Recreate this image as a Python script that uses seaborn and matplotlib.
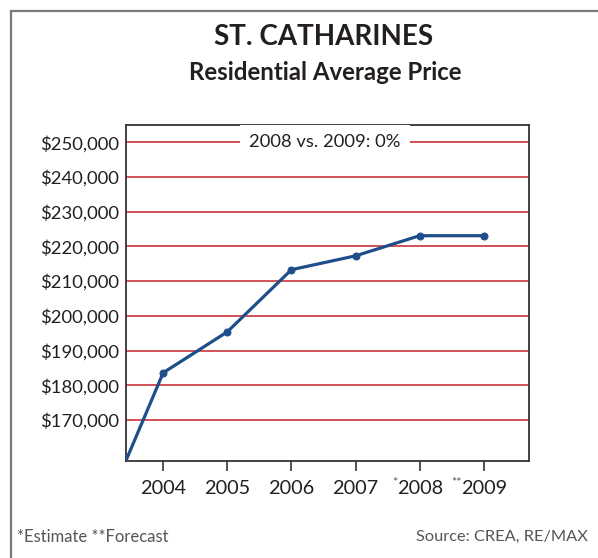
import pandas as pd
import seaborn as sns
import matplotlib
matplotlib.use("Agg")
import matplotlib.pyplot as plt
from matplotlib.patches import Rectangle
from matplotlib.ticker import FuncFormatter
from matplotlib.transforms import blended_transform_factory

# ── Data ──────────────────────────────────────────────────────────────
years  = [2003, 2004, 2005, 2006, 2007, 2008, 2009]
prices = [140000, 183600, 195400, 213300, 217300, 223100, 223100]
tick_years  = [2004, 2005, 2006, 2007, 2008, 2009]
tick_marks  = ["", "", "", "", "*", "**"]     # *estimate **forecast
y_ticks     = [170000, 180000, 190000, 200000, 210000, 220000, 230000, 240000, 250000]

TITLE    = "ST. CATHARINES"
SUBTITLE = "Residential Average Price"
CALLOUT  = "2008 vs. 2009: 0%"

BLUE = "#1f4f8a"
RED  = "#c8202b"
INK  = "#231f20"
GREY = "#555555"

df = pd.DataFrame({"year": years, "price": prices})

sns.set_theme(style="white")
plt.rcParams["font.family"] = ["Lato", "DejaVu Sans"]

fig = plt.figure(figsize=(5.98, 5.58), dpi=100)
ax = fig.add_axes([0.2107, 0.1744, 0.6734, 0.6016])

# outer frame (runs off right/bottom edge like the source)
fig.patches.append(Rectangle((11 / 598, -0.05), 1.2, 1 - 11 / 558 + 0.05,
                             transform=fig.transFigure, fill=False,
                             edgecolor="#7a7a7a", lw=1.6, zorder=0))

# gridlines
for v in y_ticks:
    ax.axhline(v, color=RED, lw=1.1, zorder=1)

sns.lineplot(data=df, x="year", y="price", color=BLUE, lw=2.3,
             marker="o", markersize=5, markeredgecolor=BLUE, ax=ax, zorder=3)

ax.set_xlim(2003.42, 2009.70)
ax.set_ylim(158270, 255000)
ax.set_xlabel("")
ax.set_ylabel("")

ax.set_yticks(y_ticks)
ax.yaxis.set_major_formatter(FuncFormatter(lambda v, _: f"${v:,.0f}"))
ax.set_xticks(tick_years)
ax.set_xticklabels([str(y) for y in tick_years])
ax.tick_params(axis="y", length=0, pad=5, labelsize=13.3, labelcolor=INK)
ax.tick_params(axis="x", length=7, width=1.2, direction="out", pad=7,
               labelsize=14.3, labelcolor=INK, color="#333333", bottom=True)

for s in ax.spines.values():
    s.set_color("#333333")
    s.set_linewidth(1.3)

# superscript asterisks before 2008 / 2009
for yr, mark in zip(tick_years, tick_marks):
    if mark:
        ax.annotate(mark, xy=(yr, 0), xycoords=("data", "axes fraction"),
                    xytext=(-16, -16), textcoords="offset points",
                    ha="right", va="center", fontsize=9, color=GREY)

# callout on the top gridline
ax.text(0.494, 250000, CALLOUT,
        transform=blended_transform_factory(ax.transAxes, ax.transData),
        ha="center", va="center", fontsize=13.2, color=INK, zorder=4,
        bbox=dict(boxstyle="square,pad=0.5", facecolor="white", edgecolor="none"))

# titles and footnotes
fig.text(324 / 598, 1 - 37 / 558, TITLE, ha="center", va="center",
         fontsize=20, fontweight="bold", color=INK)
fig.text(325 / 598, 1 - 73 / 558, SUBTITLE, ha="center", va="center",
         fontsize=17.3, fontweight="bold", color=INK)
fig.text(17 / 598, 1 - 537 / 558, "*Estimate **Forecast", ha="left", va="center",
         fontsize=12, color=GREY)
fig.text(588 / 598, 1 - 537 / 558, "Source: CREA, RE/MAX", ha="right", va="center",
         fontsize=11.8, color=GREY)

fig.savefig("out.png", dpi=100)
